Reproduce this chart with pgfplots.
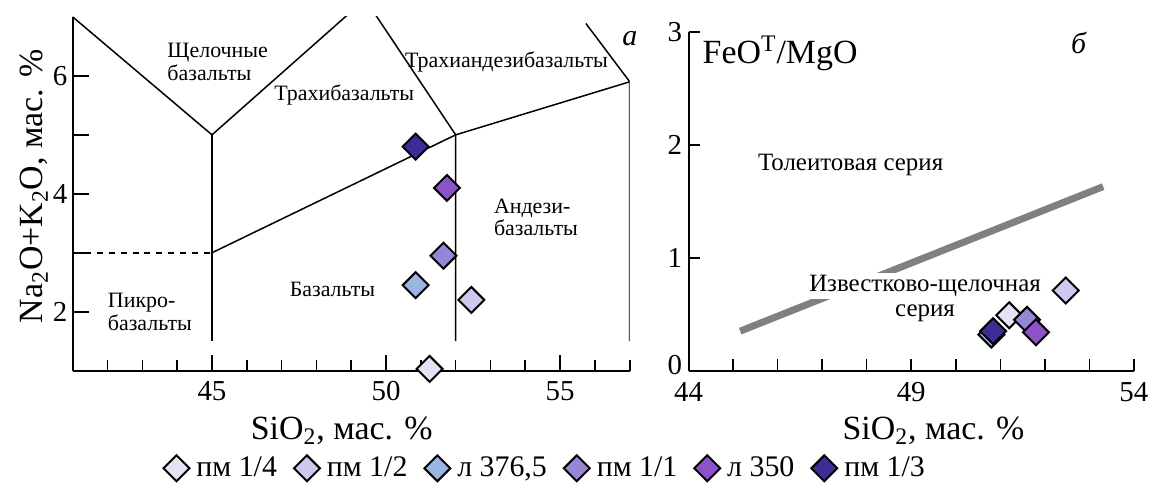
\documentclass[border=0pt]{standalone}
\usepackage{fontspec}
\setmainfont{Liberation Serif}
\usepackage{pgfplots}
\pgfplotsset{compat=1.18}
\definecolor{cA}{HTML}{E4E2F4}
\definecolor{cB}{HTML}{CCC8EE}
\definecolor{cC}{HTML}{9BB5E2}
\definecolor{cD}{HTML}{9985D5}
\definecolor{cE}{HTML}{8C52C8}
\definecolor{cF}{HTML}{3B2C98}
\pgfplotsset{
  dia/.style={only marks, mark=square*, mark size=4.6pt,
    mark options={rotate=45, fill=#1, draw=black, line width=1pt}},
  tas/.style={black, line width=0.75pt, no marks},
}
\begin{document}
\begin{tikzpicture}
\path (0,0) rectangle (577.5pt,244.5pt);
% ---------- left: TAS ----------
\begin{axis}[
  at={(36.5pt,58.5pt)}, anchor=south west,
  scale only axis, width=279.5pt, height=177.5pt,
  xmin=41, xmax=57, ymin=1, ymax=7,
  clip mode=individual,
  axis lines*=left,
  axis line style={line width=1pt, -},
  tick align=inside,
  tick style={black, line width=0.8pt},
  major tick length=8pt, minor tick length=5.5pt,
  xtick={45,50,55},
  minor xtick={42,43,44,46,47,48,49,51,52,53,54,56,57},
  ytick={2,3,4,5,6}, yticklabels={2,,4,,6},
  /pgf/number format/assume math mode=true,
  ticklabel style={font=\fontsize{14.5}{16}\selectfont},
  xticklabel style={yshift=-2pt},
  yticklabel style={inner xsep=2.5pt},
  xlabel={SiO\textsubscript{2}, мас. \%},
  ylabel={Na\textsubscript{2}O+K\textsubscript{2}O, мас. \%},
  label style={font=\fontsize{17}{19}\selectfont},
  xlabel style={at={(axis description cs:0.483,0)}, anchor=base, yshift=-34.5pt},
  ylabel style={at={(axis description cs:-0.0537,0.521)}, rotate=0, anchor=base},
  legend columns=6,
  legend style={draw=none, fill=none, at={(axis description cs:0.85,-0.276)}, anchor=center,
    font=\fontsize{15}{17}\selectfont,
    /tikz/every odd column/.append style={column sep=1.5pt},
    /tikz/every even column/.append style={column sep=6.5pt}},
  legend image code/.code={\draw[#1] plot coordinates {(6.5pt,0pt)};},
]
\addplot[tas] coordinates {(41,7) (45,5) (49.4,7.3)};
\addplot[tas] coordinates {(45,1.5) (45,5)};
\addplot[tas, dashed] coordinates {(41,3) (45,3)};
\addplot[tas] coordinates {(45,3) (52,5) (57,5.9)};
\addplot[tas] coordinates {(49.4,7.3) (52,5) (52,1.5)};
\addplot[tas] coordinates {(55.74,6.89) (57,5.9) (57,1.5)};
\addplot[dia=cA] coordinates {(51.25,1.03)};
\addplot[dia=cB] coordinates {(52.45,2.2)};
\addplot[dia=cC] coordinates {(50.85,2.45)};
\addplot[dia=cD] coordinates {(51.65,2.95)};
\addplot[dia=cE] coordinates {(51.75,4.1)};
\addplot[dia=cF] coordinates {(50.85,4.8)};
\legend{,,,,,,пм 1/4,пм 1/2,{л 376,5},пм 1/1,л 350,пм 1/3}
\begin{scope}[every node/.style={font=\fontsize{11}{11.5}\selectfont, inner sep=0pt}]
\node[anchor=west, align=left] at (axis cs:43.71,6.23) {Щелочные\\базальты};
\node at (axis cs:48.8,5.67) {Трахибазальты};
\node at (axis cs:53.46,6.23) {Трахиандезибазальты};
\node[anchor=west, align=left] at (axis cs:53.09,3.6) {Андези-\\базальты};
\node at (axis cs:48.46,2.37) {Базальты};
\node[anchor=west, align=left] at (axis cs:42.0,2.0) {Пикро-\\базальты};
\end{scope}
\node[font=\fontsize{15}{17}\selectfont\itshape] at (axis cs:57.0,6.63) {а};
\end{axis}
% ---------- right: FeO/MgO ----------
\begin{axis}[
  at={(345.5pt,58.5pt)}, anchor=south west,
  scale only axis, width=223.5pt, height=170pt,
  xmin=44, xmax=54, ymin=0, ymax=3,
  clip mode=individual,
  axis lines*=left,
  axis line style={line width=1pt, -},
  tick align=inside,
  tick style={black, line width=0.8pt},
  major tick length=6pt, minor tick length=6pt,
  xtick={44,49,54}, minor xtick={45,46,47,48,50,51,52,53},
  ytick={1,2,3},
  extra y ticks={0},
  extra y tick style={yticklabel style={yshift=3pt}},
  /pgf/number format/assume math mode=true,
  ticklabel style={font=\fontsize{14.5}{16}\selectfont},
  xticklabel style={yshift=-2.5pt},
  yticklabel style={inner xsep=3pt},
  xlabel={SiO\textsubscript{2}, мас. \%},
  label style={font=\fontsize{17}{19}\selectfont},
  xlabel style={at={(axis description cs:0.55,0)}, anchor=base, yshift=-34.5pt},
]
\addplot[color={rgb,255:red,128;green,128;blue,128}, line width=3.5pt, no marks] coordinates {(45.16,0.35) (53.31,1.63)};
\node[fill=white, inner sep=1pt, font=\fontsize{12.5}{13}\selectfont] at (axis cs:49.31,0.75) {Известково-щелочная};
\node[inner sep=0pt, font=\fontsize{12.5}{13}\selectfont] at (axis cs:49.31,0.51) {серия};
\node[inner sep=0pt, font=\fontsize{12.5}{13}\selectfont] at (axis cs:47.64,1.82) {Толеитовая серия};
\node[anchor=base west, inner sep=0pt, font=\fontsize{17}{19}\selectfont] at (axis cs:44.31,2.72) {FeO\textsuperscript{T}/MgO};
\node[font=\fontsize{15}{17}\selectfont\itshape] at (axis cs:52.76,2.9) {б};
\addplot[dia=cA] coordinates {(51.2,0.49)};
\addplot[dia=cB] coordinates {(52.47,0.71)};
\addplot[dia=cC] coordinates {(50.8,0.32)};
\addplot[dia=cD] coordinates {(51.6,0.45)};
\addplot[dia=cE] coordinates {(51.8,0.34)};
\addplot[dia=cF] coordinates {(50.84,0.35)};
\end{axis}
\end{tikzpicture}
\end{document}
